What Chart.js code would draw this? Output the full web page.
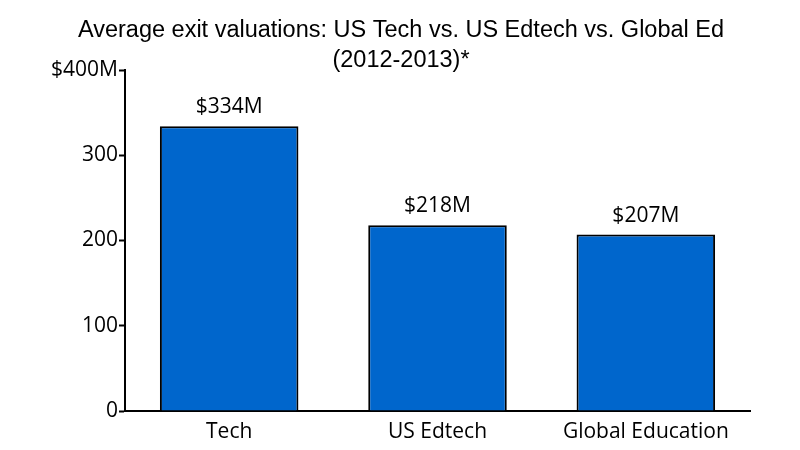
<!DOCTYPE html>
<html>
<head>
<meta charset="utf-8">
<script src="https://cdn.jsdelivr.net/npm/chart.js@4"></script>
<style>
  html, body { margin: 0; padding: 0; background: #fff; }
  #wrap { width: 800px; height: 450px; }
</style>
</head>
<body>
<div id="wrap"><canvas id="chart"></canvas></div>
<script>
// ---- data ----
var categories = ['Tech', 'US Edtech', 'Global Education'];
var valuations = [334, 218, 207];
var valueLabels = ['$334M', '$218M', '$207M'];
var yTicks = [0, 100, 200, 300, 400];
var yTickLabels = ['0', '100', '200', '300', '$400M'];
var titleLines = ['Average exit valuations: US Tech vs. US Edtech vs. Global Ed', '(2012-2013)*'];

var labelFont = '"Open Sans", "Noto Sans", sans-serif';

// title drawn by hand so the plot keeps its place
var titlePlugin = {
  id: 'titleText',
  afterDraw: function (chart) {
    var ctx = chart.ctx;
    ctx.save();
    ctx.fillStyle = '#000';
    ctx.font = '23.5px "Liberation Sans", Arial, sans-serif';
    ctx.textAlign = 'center';
    ctx.textBaseline = 'alphabetic';
    ctx.fillText(titleLines[0], 401, 37);
    ctx.fillText(titleLines[1], 401, 67);
    ctx.restore();
  }
};

// value above each bar
var barValues = {
  id: 'barValues',
  afterDatasetsDraw: function (chart) {
    var ctx = chart.ctx;
    var meta = chart.getDatasetMeta(0);
    ctx.save();
    ctx.fillStyle = '#000';
    ctx.font = '21px ' + labelFont;
    ctx.textAlign = 'center';
    ctx.textBaseline = 'middle';
    meta.data.forEach(function (bar, i) {
      ctx.fillText(valueLabels[i], bar.x, bar.y - 19);
    });
    ctx.restore();
  }
};

const config = {
  type: 'bar',
  data: {
    labels: categories,
    datasets: [{
      data: valuations,
      backgroundColor: '#0066CC',
      borderColor: '#000',
      borderWidth: 2,
      borderSkipped: 'bottom',
      categoryPercentage: 1.0,
      barPercentage: 0.665
    }]
  },
  options: {
    responsive: true,
    maintainAspectRatio: false,
    animation: false,
    layout: { padding: { top: 70, right: 50, left: 0, bottom: 0 } },
    plugins: {
      legend: { display: false },
      title: { display: false },
      tooltip: { enabled: false }
    },
    scales: {
      y: {
        min: 0,
        max: 400,
        afterBuildTicks: function (axis) {
          axis.ticks = yTicks.map(function (v) { return { value: v }; });
        },
        afterFit: function (axis) { axis.width = 125; },
        ticks: {
          color: '#000',
          font: { size: 21, family: labelFont },
          padding: 1,
          callback: function (v) {
            var i = yTicks.indexOf(v);
            return i >= 0 ? yTickLabels[i] : '';
          }
        },
        grid: { drawOnChartArea: false, tickLength: 6, tickColor: '#000', tickWidth: 2 },
        border: { color: '#000', width: 2 }
      },
      x: {
        afterFit: function (axis) { axis.height = 39; },
        ticks: {
          color: '#000',
          font: { size: 21, family: labelFont },
          padding: 0
        },
        grid: { display: false },
        border: { color: '#000', width: 2 }
      }
    }
  },
  plugins: [titlePlugin, barValues]
};

const myChart = new Chart(document.getElementById('chart').getContext('2d'), config);
</script>
</body>
</html>
